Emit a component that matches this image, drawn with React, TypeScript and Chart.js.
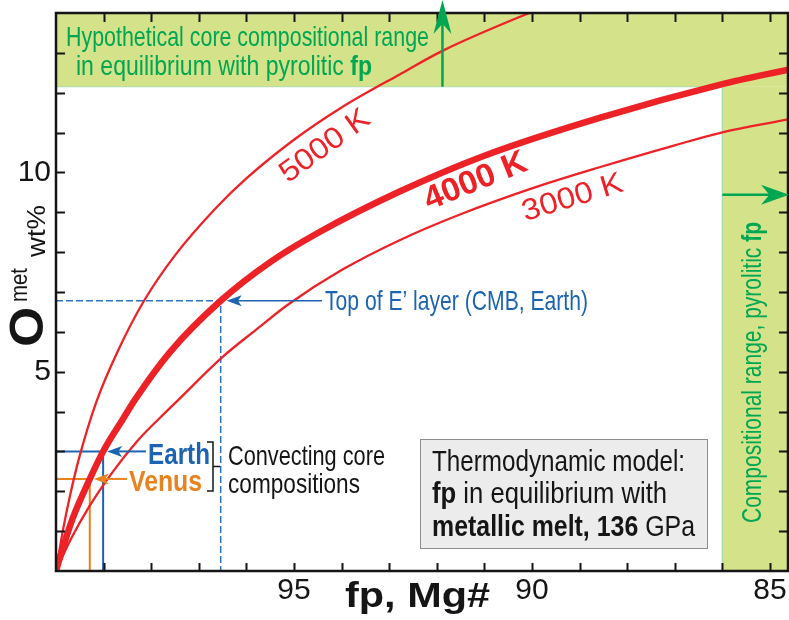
import React, { useEffect, useRef } from 'react';
import { Chart, registerables } from 'chart.js';

Chart.register(...registerables);

// ---------- data ----------
const mgMin = 84.62;
const mgMax = 100;
const oMin = 0;
const oMax = 14;
const mgTicks = [85, 86, 87, 88, 89, 90, 91, 92, 93, 94, 95, 96, 97, 98, 99, 100];
const oTicks = [0, 1, 2, 3, 4, 5, 6, 7, 8, 9, 10, 11, 12, 13, 14];
const mgLabels = [95, 90, 85];
const oLabels = [5, 10];

const mg3000 = [100, 99.7, 99.3, 98.8, 98.3, 97.82, 97.44, 96.54, 95.8, 95.13, 94.0, 92.78, 91.5, 90.0, 88.58, 87.0, 86.02, 84.62];
const o3000 = [0, 0.77, 1.62, 2.5, 3.25, 3.84, 4.28, 5.33, 6.05, 6.68, 7.55, 8.3, 8.95, 9.6, 10.13, 10.68, 11.0, 11.33];

const mg4000 = [100, 99.85, 99.65, 99.29, 99.01, 98.59, 98.34, 97.6, 96.54, 95.5, 94.5, 92.78, 91.0, 88.58, 86.02, 84.62];
const o4000 = [0, 0.6, 1.32, 2.31, 3.0, 3.82, 4.3, 5.5, 6.78, 7.75, 8.48, 9.52, 10.42, 11.37, 12.21, 12.58];

const mg5000 = [100, 99.85, 99.7, 99.5, 99.15, 98.7, 98.15, 97.5, 96.63, 96.0, 95.0, 94.0, 92.78, 91.88, 90.2, 89.5];
const o5000 = [0, 1.05, 1.92, 2.9, 4.25, 5.52, 6.78, 7.92, 9.12, 9.85, 10.82, 11.63, 12.46, 13.05, 13.93, 14.25];

const earthMg = 99.01;
const earthO = 3.0;
const venusMg = 99.29;
const venusO = 2.31;
const eLayerMg = 96.54;
const eLayerO = 6.78;

const bandTopO = 12.15;
const bandRightMg = 86.0;
const upArrowMg = 91.88;
const rightArrowO = 9.44;

// ---------- styles ----------
const FONT = "'Liberation Sans', Arial, sans-serif";
const RED = '#ec2227';
const GREEN = '#00a651';
const BAND = '#d4e28a';
const BAND_EDGE = '#a9dca6';
const BLUE = '#1c64b1';
const ORANGE = '#e8821e';
const INK = '#151515';

type Seg = { t: string; b?: boolean };

function rich(
  ctx: CanvasRenderingContext2D,
  segs: Seg[],
  x: number,
  y: number,
  size: number,
  color: string,
  width?: number,
  rot = 0,
  align: 'left' | 'center' = 'left'
) {
  ctx.save();
  ctx.translate(x, y);
  if (rot) ctx.rotate(rot);
  const ws: number[] = [];
  let total = 0;
  for (const s of segs) {
    ctx.font = `${s.b ? 'bold ' : ''}${size}px ${FONT}`;
    const w = ctx.measureText(s.t).width;
    ws.push(w);
    total += w;
  }
  const sx = width ? width / total : 1;
  ctx.scale(sx, 1);
  ctx.fillStyle = color;
  ctx.textBaseline = 'alphabetic';
  ctx.textAlign = 'left';
  let cx = align === 'center' ? -total / 2 : 0;
  segs.forEach((s, i) => {
    ctx.font = `${s.b ? 'bold ' : ''}${size}px ${FONT}`;
    ctx.fillText(s.t, cx, 0);
    cx += ws[i];
  });
  ctx.restore();
}

function arrow(
  ctx: CanvasRenderingContext2D,
  x1: number,
  y1: number,
  x2: number,
  y2: number,
  color: string,
  lw: number,
  hl: number,
  hw: number,
  notch = 0.25
) {
  const a = Math.atan2(y2 - y1, x2 - x1);
  const dx = Math.cos(a);
  const dy = Math.sin(a);
  const px = -dy;
  const py = dx;
  ctx.save();
  ctx.strokeStyle = color;
  ctx.fillStyle = color;
  ctx.lineWidth = lw;
  ctx.beginPath();
  ctx.moveTo(x1, y1);
  ctx.lineTo(x2 - dx * hl * 0.7, y2 - dy * hl * 0.7);
  ctx.stroke();
  ctx.beginPath();
  ctx.moveTo(x2, y2);
  ctx.lineTo(x2 - dx * hl + px * hw / 2, y2 - dy * hl + py * hw / 2);
  ctx.lineTo(x2 - dx * hl * (1 - notch), y2 - dy * hl * (1 - notch));
  ctx.lineTo(x2 - dx * hl - px * hw / 2, y2 - dy * hl - py * hw / 2);
  ctx.closePath();
  ctx.fill();
  ctx.restore();
}

const pts = (xs: number[], ys: number[]) => xs.map((x, i) => ({ x, y: ys[i] }));

const decorPlugin = {
  id: 'decor',
  beforeDatasetsDraw(chart: any) {
    const ctx: CanvasRenderingContext2D = chart.ctx;
    const xs = chart.scales.x;
    const ys = chart.scales.y;
    const { left, right, top, bottom } = chart.chartArea;
    const yb = ys.getPixelForValue(bandTopO);
    const xb = xs.getPixelForValue(bandRightMg);
    ctx.save();
    ctx.fillStyle = BAND;
    ctx.fillRect(left, top, right - left, yb - top);
    ctx.fillRect(xb, yb, right - xb, bottom - yb);
    ctx.strokeStyle = BAND_EDGE;
    ctx.lineWidth = 1.2;
    ctx.beginPath();
    ctx.moveTo(left, yb);
    ctx.lineTo(xb, yb);
    ctx.lineTo(xb, bottom);
    ctx.stroke();
    ctx.restore();
  },
  afterDatasetsDraw(chart: any) {
    const ctx: CanvasRenderingContext2D = chart.ctx;
    const xs = chart.scales.x;
    const ys = chart.scales.y;
    const { left, right, top, bottom } = chart.chartArea;

    // frame
    ctx.save();
    ctx.strokeStyle = INK;
    ctx.lineWidth = 2.5;
    ctx.strokeRect(left, top, right - left, bottom - top);
    // inside ticks
    ctx.lineWidth = 2;
    ctx.beginPath();
    for (const v of mgTicks) {
      if (v === mgMax) continue;
      const p = Math.round(xs.getPixelForValue(v)) + 0.5;
      ctx.moveTo(p, bottom);
      ctx.lineTo(p, bottom - 8);
      ctx.moveTo(p, top);
      ctx.lineTo(p, top + 9);
    }
    for (const v of oTicks) {
      if (v === oMin || v === oMax) continue;
      const p = Math.round(ys.getPixelForValue(v)) + 0.5;
      ctx.moveTo(left, p);
      ctx.lineTo(left + 9, p);
      ctx.moveTo(right, p);
      ctx.lineTo(right - 9, p);
    }
    ctx.stroke();
    ctx.restore();

    // green arrows
    const ub = ys.getPixelForValue(bandTopO);
    const ux = xs.getPixelForValue(upArrowMg);
    arrow(ctx, ux, ub, ux, 0, GREEN, 2.5, 34, 18, 0.3);
    const ry = ys.getPixelForValue(rightArrowO);
    const rx = xs.getPixelForValue(bandRightMg);
    arrow(ctx, rx, ry, right + 1, ry, GREEN, 2.5, 28, 20, 0.3);

    // band texts
    rich(ctx, [{ t: 'Hypothetical core compositional range' }], 66, 45.5, 28, GREEN, 363);
    rich(ctx, [{ t: 'in equilibrium with pyrolitic ' }, { t: 'fp', b: true }], 76, 75, 28, GREEN, 296);
    rich(ctx, [{ t: 'Compositional range, pyrolitic ' }, { t: 'fp', b: true }], 761, 523, 27, GREEN, 301, -Math.PI / 2);

    // curve labels
    rich(ctx, [{ t: '5000 K' }], 330, 153, 30, RED, 104, (-36 * Math.PI) / 180, 'center');
    rich(ctx, [{ t: '4000 K', b: true }], 479, 190, 33, RED, 108, (-22 * Math.PI) / 180, 'center');
    rich(ctx, [{ t: '3000 K' }], 575, 206, 30, RED, 104, (-17 * Math.PI) / 180, 'center');

    // E' layer annotation
    const ey = ys.getPixelForValue(eLayerO);
    const ex = xs.getPixelForValue(eLayerMg);
    arrow(ctx, 322, ey, ex + 6, ey, BLUE, 1.6, 15, 11, 0.25);
    rich(ctx, [{ t: 'Top of E\u2019 layer (CMB, Earth)' }], 325, 310, 28, BLUE, 263);

    // Earth / Venus
    const eay = ys.getPixelForValue(earthO);
    const eax = xs.getPixelForValue(earthMg);
    arrow(ctx, 146, eay, eax + 4, eay, BLUE, 2, 15, 11, 0.25);
    rich(ctx, [{ t: 'Earth', b: true }], 148, 464, 29, BLUE, 62);
    const vy = ys.getPixelForValue(venusO);
    const vx = xs.getPixelForValue(venusMg);
    arrow(ctx, 127, vy, vx + 4, vy, ORANGE, 2, 15, 11, 0.25);
    rich(ctx, [{ t: 'Venus', b: true }], 129, 490.5, 29, ORANGE, 73);

    // bracket
    ctx.save();
    ctx.strokeStyle = INK;
    ctx.lineWidth = 1.5;
    ctx.beginPath();
    ctx.moveTo(207, 442);
    ctx.lineTo(213, 442);
    ctx.lineTo(213, 491);
    ctx.lineTo(207, 491);
    ctx.moveTo(213, 466.5);
    ctx.lineTo(220, 466.5);
    ctx.stroke();
    ctx.restore();
    rich(ctx, [{ t: 'Convecting core' }], 228, 465, 28, INK, 157);
    rich(ctx, [{ t: 'compositions' }], 228, 493, 28, INK, 132);

    // model box
    ctx.save();
    ctx.fillStyle = '#ebeceb';
    ctx.strokeStyle = '#8d8d8d';
    ctx.lineWidth = 1;
    ctx.fillRect(420, 439, 287, 109);
    ctx.strokeRect(420.5, 439.5, 287, 109);
    ctx.restore();
    rich(ctx, [{ t: 'Thermodynamic model:' }], 432, 471, 29, INK, 253);
    rich(ctx, [{ t: 'fp', b: true }, { t: ' in equilibrium with' }], 432, 503, 29, INK, 235);
    rich(ctx, [{ t: 'metallic melt, 136', b: true }, { t: ' GPa' }], 432, 536, 29, INK, 263);

    // axis titles
    rich(ctx, [{ t: 'fp, Mg#', b: true }], 345, 607, 35, INK, 145);
    rich(ctx, [{ t: 'O', b: true }], 43, 346.7, 48, INK, 40, -Math.PI / 2);
    rich(ctx, [{ t: 'met' }], 27, 302, 23, INK, 34, -Math.PI / 2);
    rich(ctx, [{ t: 'wt%' }], 45, 257, 25, INK, 52, -Math.PI / 2);
  },
};

export default function App() {
  const ref = useRef<HTMLCanvasElement | null>(null);

  useEffect(() => {
    document.body.style.margin = '0';
    document.body.style.overflow = 'hidden';
    const canvas = ref.current;
    if (!canvas) return;
    const curve = (label: string, xs: number[], ys: number[], w: number) => ({
      label,
      data: pts(xs, ys),
      borderColor: RED,
      borderWidth: w,
      pointRadius: 0,
      cubicInterpolationMode: 'monotone',
      fill: false,
    });
    const refLine = (label: string, mg: number, o: number, color: string, w: number, dash: number[]) => ({
      label,
      data: [
        { x: mgMax, y: o },
        { x: mg, y: o },
        { x: mg, y: oMin },
      ],
      borderColor: color,
      borderWidth: w,
      borderDash: dash,
      pointRadius: 0,
      tension: 0,
      fill: false,
    });
    const chart = new Chart(canvas, {
      type: 'line',
      data: {
        datasets: [
          curve('4000 K', mg4000, o4000, 6.5),
          curve('5000 K', mg5000, o5000, 2.3),
          curve('3000 K', mg3000, o3000, 2.3),
          refLine('Earth', earthMg, earthO, BLUE, 2, []),
          refLine('Venus', venusMg, venusO, ORANGE, 2, []),
          refLine("Top of E' layer", eLayerMg, eLayerO, '#2a72c2', 1.5, [7, 3]),
        ],
      },
      options: {
        responsive: false,
        animation: false,
        events: [],
        layout: { padding: { top: 13, right: 1, left: 0, bottom: 0 } },
        plugins: {
          legend: { display: false },
          tooltip: { enabled: false },
          title: { display: false },
        },
        scales: {
          x: {
            type: 'linear',
            reverse: true,
            min: mgMin,
            max: mgMax,
            grid: { display: false, drawTicks: false },
            border: { display: false },
            afterBuildTicks: (s: any) => {
              s.ticks = mgTicks.map((v) => ({ value: v }));
            },
            afterFit: (s: any) => {
              s.height = 49;
              s.paddingLeft = 0;
              s.paddingRight = 0;
            },
            ticks: {
              autoSkip: false,
              maxRotation: 0,
              padding: 2,
              color: INK,
              font: { family: FONT, size: 30 },
              callback: (v: any) => (mgLabels.includes(Math.round(Number(v))) ? String(Math.round(Number(v))) : ''),
            },
          },
          y: {
            type: 'linear',
            min: oMin,
            max: oMax,
            grid: { display: false, drawTicks: false },
            border: { display: false },
            afterBuildTicks: (s: any) => {
              s.ticks = oTicks.map((v) => ({ value: v }));
            },
            afterFit: (s: any) => {
              s.width = 56;
              s.paddingTop = 0;
              s.paddingBottom = 0;
            },
            ticks: {
              autoSkip: false,
              padding: 5,
              color: INK,
              font: { family: FONT, size: 30 },
              callback: (v: any) => (oLabels.includes(Math.round(Number(v))) ? String(Math.round(Number(v))) : ''),
            },
          },
        },
      },
      plugins: [decorPlugin],
    } as any);
    return () => chart.destroy();
  }, []);

  return <canvas ref={ref} width={789} height={620} style={{ display: 'block' }} />;
}
